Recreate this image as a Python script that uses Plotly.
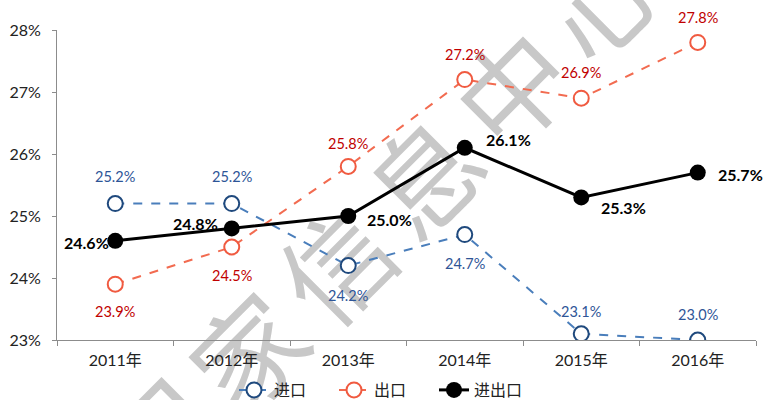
import plotly.graph_objects as go

years = ["2011年", "2012年", "2013年", "2014年", "2015年", "2016年"]
imports = [25.2, 25.2, 24.2, 24.7, 23.1, 23.0]
exports = [23.9, 24.5, 25.8, 27.2, 26.9, 27.8]
total = [24.6, 24.8, 25.0, 26.1, 25.3, 25.7]
watermark = "国家信息中心"

FONT = "Lato, Noto Sans CJK SC, sans-serif"
L, R, T, B = 57, 12, 30, 60
W, H = 768, 400
PW, PH = W - L - R, H - T - B

fig = go.Figure()
fig.add_trace(go.Scatter(
    x=years, y=imports, name="进口", mode="lines+markers",
    line=dict(color="#4A7EBB", width=2, dash="dash"),
    marker=dict(symbol="circle", size=15, color="white",
                line=dict(color="#1F497D", width=2)),
))
fig.add_trace(go.Scatter(
    x=years, y=exports, name="出口", mode="lines+markers",
    line=dict(color="#F26B50", width=2, dash="dash"),
    marker=dict(symbol="circle", size=15, color="white",
                line=dict(color="#F05A40", width=2)),
))
fig.add_trace(go.Scatter(
    x=years, y=total, name="进出口", mode="lines+markers",
    line=dict(color="black", width=3),
    marker=dict(symbol="circle", size=16, color="black"),
))

# data labels (offsets are styling)
imp_shift = [27, 27, -30, -29, 22, 26]
exp_shift = [-27, -28, 23, 25, 26, 25]
for x, v, s in zip(years, imports, imp_shift):
    fig.add_annotation(x=x, y=v, text=f"{v:.1f}%", showarrow=False, yshift=s,
                       font=dict(family=FONT, size=14.5, color="#2E5597"))
for x, v, s in zip(years, exports, exp_shift):
    fig.add_annotation(x=x, y=v, text=f"{v:.1f}%", showarrow=False, yshift=s,
                       font=dict(family=FONT, size=14.5, color="#C00000"))
tot_anchor = ["right", "right", "left", "left", "left", "left"]
tot_xshift = [-4, -12, 17, 19, 18, 18]
tot_yshift = [-2, 5, -3, 8, -10, -2]
for x, v, a, xs, ys in zip(years, total, tot_anchor, tot_xshift, tot_yshift):
    fig.add_annotation(x=x, y=v, text=f"<b>{v:.1f}%</b>", showarrow=False,
                       xanchor=a, xshift=xs, yshift=ys,
                       font=dict(family=FONT, size=16, color="black"))

# watermark, drawn beneath the traces (pixel centres of each glyph, styling)
wm_px = [(170, 450), (258, 362), (346, 274), (434, 186), (522, 98), (610, 10)]
for ch, (px, py) in zip(watermark, wm_px):
    cx = (px - L) / PW
    cy = (H - B - py) / PH
    fig.add_shape(type="rect", xref="paper", yref="paper",
                  x0=cx - 0.01, x1=cx + 0.01, y0=cy - 0.01, y1=cy + 0.01,
                  line=dict(width=0), fillcolor="rgba(0,0,0,0)", layer="below",
                  label=dict(text=ch, textangle=-45, textposition="middle center",
                             font=dict(family="Noto Sans CJK SC", size=110,
                                       weight="normal", color="#C8C8C8")))

fig.update_layout(
    width=W, height=H,
    margin=dict(l=L, r=R, t=T, b=B, autoexpand=False),
    paper_bgcolor="white", plot_bgcolor="rgba(0,0,0,0)",
    font=dict(family=FONT, size=14, color="#222"),
    showlegend=True,
    legend=dict(orientation="h", xref="container", yref="container",
                x=0.5, xanchor="center", y=0.025, yanchor="middle",
                font=dict(family=FONT, size=16, color="#222"),
                entrywidth=55, bgcolor="rgba(0,0,0,0)"),
    xaxis=dict(type="category", range=[-0.5, 5.5], showline=True, automargin=False,
               linecolor="#8C8C8C", linewidth=1, ticks="outside",
               tickson="boundaries", ticklen=5, tickcolor="#8C8C8C",
               ticklabelstandoff=6,
               showgrid=False, zeroline=False,
               tickfont=dict(family=FONT, size=16, color="#222")),
    yaxis=dict(range=[23, 28], dtick=1, ticksuffix="%", showline=True, automargin=False,
               linecolor="#8C8C8C", linewidth=1, ticks="outside", ticklen=4,
               tickcolor="#8C8C8C", ticklabelstandoff=8,
               showgrid=False, zeroline=False,
               tickfont=dict(family=FONT, size=16, color="#222")),
)

fig.write_html("out.html", config={"displayModeBar": False},
               post_script="document.body.style.margin='0';document.body.style.overflow='hidden';")
